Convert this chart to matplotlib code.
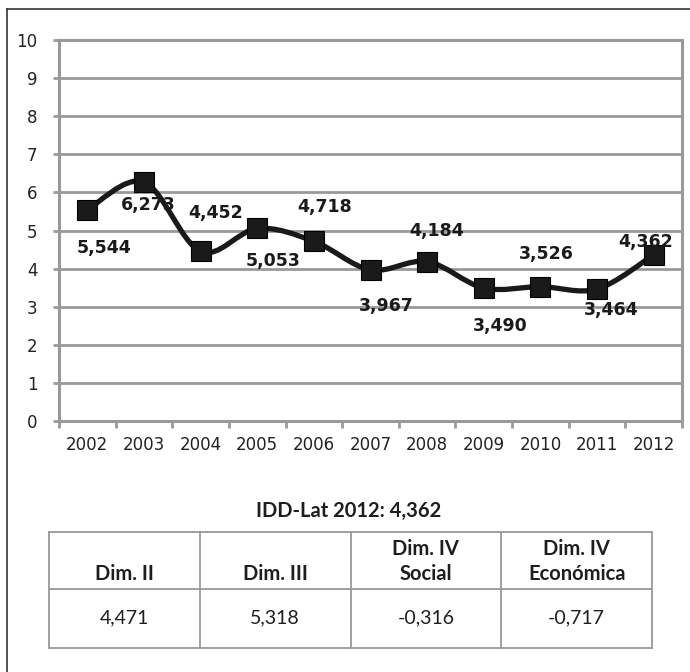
import matplotlib
matplotlib.use("Agg")
import matplotlib.pyplot as plt
import numpy as np
from matplotlib.path import Path
from matplotlib.patches import PathPatch

# data
years = ["2002", "2003", "2004", "2005", "2006", "2007", "2008", "2009", "2010", "2011", "2012"]
idd = [5.544, 6.273, 4.452, 5.053, 4.718, 3.967, 4.184, 3.490, 3.526, 3.464, 4.362]
# label offsets in pixels (dx, dy) relative to each point
label_offsets = [(17, -38), (4, -23), (15, 38), (16, -33), (11, 34), (16, -36),
                 (9, 31), (16, -38), (6, 33), (14, -21), (-8, 13)]

table_title = "IDD-Lat 2012: 4,362"
table_headers = ["Dim. II", "Dim. III", "Dim. IV\nSocial", "Dim. IV\nEconómica"]
table_values = ["4,471", "5,318", "-0,316", "-0,717"]

W, H = 690, 672
fig = plt.figure(figsize=(W / 100, H / 100), dpi=100)

# chart axes, placed in pixels
left, right, top, bottom = 59, 682, 40, 421
ax = fig.add_axes([left / W, 1 - bottom / H, (right - left) / W, (bottom - top) / H])
ax.set_xlim(-0.5, len(years) - 0.5)
ax.set_ylim(0, 10)

grid_col = "#999999"
for v in range(1, 11):
    ax.axhline(v, color=grid_col, lw=2.0, zorder=1)
for s in ax.spines.values():
    s.set_color(grid_col)
    s.set_linewidth(2.2)

ax.set_yticks(range(0, 11))
ax.tick_params(axis="y", length=4.5, width=2, color=grid_col, pad=11,
               labelsize=12, labelcolor="#222222")
ax.set_xticks(range(len(years)))
ax.set_xticklabels(years)
ax.set_xticks(np.arange(-0.5, len(years), 1.0), minor=True)
ax.tick_params(axis="x", which="major", length=0, pad=11, labelsize=12, labelcolor="#222222")
ax.tick_params(axis="x", which="minor", length=5, width=2, color=grid_col)

# smoothed line (Catmull-Rom converted to cubic bezier)
x = np.arange(len(idd), dtype=float)
y = np.array(idd)
pts = np.column_stack([x, y])
ext = np.vstack([pts[0], pts, pts[-1]])
verts = [tuple(pts[0])]
codes = [Path.MOVETO]
for i in range(len(pts) - 1):
    p0, p1, p2, p3 = ext[i], ext[i + 1], ext[i + 2], ext[i + 3]
    c1 = p1 + (p2 - p0) / 6.0
    c2 = p2 - (p3 - p1) / 6.0
    verts += [tuple(c1), tuple(c2), tuple(p2)]
    codes += [Path.CURVE4] * 3
ax.add_patch(PathPatch(Path(verts, codes), facecolor="none", edgecolor="#1a1a1a",
                       lw=3.8, zorder=3, capstyle="round", joinstyle="round"))
ax.plot(x, y, ls="none", marker="s", ms=14, mfc="#1a1a1a", mec="#000000",
        mew=0.8, zorder=4)

for xi, yi, (dx, dy) in zip(x, y, label_offsets):
    ax.annotate(f"{yi:.3f}".replace(".", ","), (xi, yi), xytext=(dx, dy),
                textcoords="offset pixels", ha="center", va="center",
                fontsize=12.5, fontweight="bold", color="#1a1a1a", zorder=5)

# overlay in pixel coordinates for border and table
ov = fig.add_axes([0, 0, 1, 1], zorder=-1)
ov.set_xlim(0, W)
ov.set_ylim(H, 0)
ov.axis("off")
ov.plot([7, W], [9, 9], color="#333333", lw=1.2)
ov.plot([7, 7], [9, H], color="#333333", lw=1.2)

tfont = "Lato"
ov.text(349, 511, table_title, ha="center", va="center", fontsize=14.5,
        fontweight="bold", family=tfont, color="#1e1e1e")

tl, tr = 49, 652
tt, tm, tb = 532, 589, 648
line_col = "#999999"
col_edges = np.linspace(tl, tr, len(table_headers) + 1)
for yy in (tt, tm, tb):
    ov.plot([tl, tr], [yy, yy], color=line_col, lw=1.3)
for xx in col_edges:
    ov.plot([xx, xx], [tt, tb], color=line_col, lw=1.3)

for i, (hd, val) in enumerate(zip(table_headers, table_values)):
    cx = (col_edges[i] + col_edges[i + 1]) / 2
    lines = hd.split("\n")
    for j, ln in enumerate(reversed(lines)):
        ov.text(cx, 580 - 25 * j, ln, ha="center", va="baseline", fontsize=14.5,
                fontweight="bold", family=tfont, color="#1e1e1e")
    ov.text(cx, 618, val, ha="center", va="center", fontsize=14,
            family=tfont, color="#1e1e1e")

fig.savefig("out.png", dpi=100)
